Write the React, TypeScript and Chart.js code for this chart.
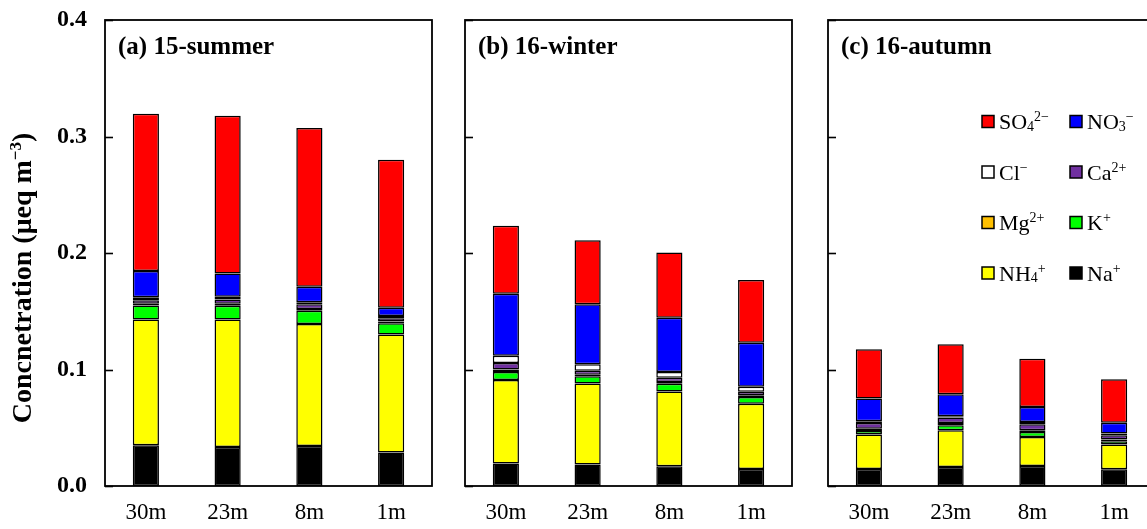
import React, { useEffect, useRef } from 'react';
import { Chart, registerables } from 'chart.js';

Chart.register(...registerables);

// ---------- data ----------
const categories = ['30m', '23m', '8m', '1m'];
const panelTitles = ['(a) 15-summer', '(b) 16-winter', '(c) 16-autumn'];
const yTickValues = [0, 0.1, 0.2, 0.3, 0.4];
const yTitle = 'Concnetration (μeq m⁻³)';

// stacking order bottom -> top
const ionLabels = ['Na⁺', 'NH₄⁺', 'K⁺', 'Mg²⁺', 'Ca²⁺', 'Cl⁻', 'NO₃⁻', 'SO₄²⁻'];
const ionColors = ['#000000', '#FFFF00', '#00FF00', '#FFC000', '#7030A0', '#FFFFFF', '#0000FF', '#FF0000'];

// each: [summer, winter, autumn] x categories
const Na = [
  [0.035, 0.0335, 0.0344, 0.0287],
  [0.0193, 0.0184, 0.0169, 0.0146],
  [0.0146, 0.0163, 0.0172, 0.0144],
];
const NH4 = [
  [0.108, 0.1095, 0.1046, 0.1013],
  [0.0716, 0.0696, 0.0643, 0.0559],
  [0.0296, 0.0316, 0.0249, 0.0212],
];
const K = [
  [0.012, 0.0118, 0.0115, 0.0096],
  [0.0069, 0.0063, 0.0065, 0.0058],
  [0.0031, 0.0043, 0.0043, 0.0028],
];
const Mg = [
  [0.0015, 0.0017, 0.0015, 0.0017],
  [0.0022, 0.0013, 0.0015, 0.0015],
  [0.0018, 0.0018, 0.0015, 0.0015],
];
const Ca = [
  [0.003, 0.0035, 0.004, 0.0027],
  [0.0055, 0.0034, 0.0037, 0.003],
  [0.005, 0.0047, 0.0052, 0.0037],
];
const Cl = [
  [0.0025, 0.0025, 0.0017, 0.002],
  [0.0063, 0.0056, 0.0049, 0.0043],
  [0.0015, 0.0012, 0.0019, 0.0014],
];
const NO3 = [
  [0.0226, 0.02, 0.0133, 0.007],
  [0.0532, 0.0514, 0.0467, 0.0379],
  [0.0195, 0.0189, 0.0129, 0.0092],
];
const SO4 = [
  [0.135, 0.1354, 0.1363, 0.127],
  [0.0583, 0.055, 0.0559, 0.0539],
  [0.0422, 0.0428, 0.0413, 0.0375],
];
const ionValues = [Na, NH4, K, Mg, Ca, Cl, NO3, SO4];

// ---------- rich text helpers ----------
const FAMILY = '"Liberation Serif", "Times New Roman", serif';
const SUB: Record<string, string> = {
  '₀': '0', '₁': '1', '₂': '2', '₃': '3', '₄': '4', '₅': '5', '₆': '6', '₇': '7', '₈': '8', '₉': '9',
};
const SUP: Record<string, string> = {
  '⁰': '0', '¹': '1', '²': '2', '³': '3', '⁴': '4', '⁵': '5', '⁶': '6', '⁷': '7', '⁸': '8', '⁹': '9',
  '⁺': '+', '⁻': '−',
};

type Seg = { t: 'n' | 'sub' | 'sup'; s: string };
function segments(text: string): Seg[] {
  const out: Seg[] = [];
  for (const ch of Array.from(text)) {
    let t: Seg['t'] = 'n';
    let c = ch;
    if (SUB[ch]) { t = 'sub'; c = SUB[ch]; }
    else if (SUP[ch]) { t = 'sup'; c = SUP[ch]; }
    const last = out[out.length - 1];
    if (last && last.t === t) last.s += c;
    else out.push({ t, s: c });
  }
  return out;
}

function drawRich(
  ctx: CanvasRenderingContext2D, text: string, x: number, y: number,
  size: number, weight: string, align: 'left' | 'center',
) {
  const segs = segments(text);
  const fontFor = (t: Seg['t']) => `${weight} ${t === 'n' ? size : Math.round(size * 0.62)}px ${FAMILY}`;
  ctx.save();
  ctx.textBaseline = 'alphabetic';
  ctx.textAlign = 'left';
  const widths = segs.map((sg) => { ctx.font = fontFor(sg.t); return ctx.measureText(sg.s).width; });
  const total = widths.reduce((a, b) => a + b, 0);
  let cx = align === 'center' ? x - total / 2 : x;
  segs.forEach((sg, i) => {
    ctx.font = fontFor(sg.t);
    const dy = sg.t === 'sub' ? size * 0.08 : sg.t === 'sup' ? -size * 0.36 : 0;
    ctx.fillText(sg.s, cx, y + dy);
    cx += widths[i];
  });
  ctx.restore();
}

// ---------- panel ----------
type PanelProps = {
  index: number; left: number; width: number; padLeft: number; padRight: number;
  showAxis: boolean; showLegend: boolean;
};

const H = 529;

function Panel({ index, left, width, padLeft, padRight, showAxis, showLegend }: PanelProps) {
  const ref = useRef<HTMLCanvasElement | null>(null);

  useEffect(() => {
    const canvas = ref.current;
    if (!canvas) return;

    const decor = {
      id: 'decor',
      afterDraw(chart: any) {
        const ctx: CanvasRenderingContext2D = chart.ctx;
        const a = chart.chartArea;
        const ys = chart.scales.y;
        ctx.save();
        // frame
        ctx.strokeStyle = '#000';
        ctx.lineWidth = 1.8;
        ctx.strokeRect(a.left, a.top, a.right - a.left, a.bottom - a.top);
        // inward tick marks
        ctx.lineWidth = 1.6;
        yTickValues.forEach((v) => {
          const py = Math.round(ys.getPixelForValue(v)) + 0.5;
          ctx.beginPath();
          ctx.moveTo(a.left, py);
          ctx.lineTo(a.left + 8, py);
          ctx.stroke();
        });
        ctx.fillStyle = '#000';
        // panel title
        drawRich(ctx, panelTitles[index], a.left + 13, a.top + 34, 25, 'bold', 'left');
        // y title
        if (showAxis) {
          ctx.save();
          ctx.translate(31, 278);
          ctx.rotate(-Math.PI / 2);
          drawRich(ctx, yTitle, 0, 0, 28, 'bold', 'center');
          ctx.restore();
        }
        // legend
        if (showLegend) {
          const ds = chart.data.datasets;
          const order = ds.map((_: any, i: number) => i).reverse();
          order.forEach((di: number, k: number) => {
            const row = Math.floor(k / 2);
            const col = k % 2;
            const bx = a.left + 154 + col * 88;
            const by = a.top + 101.5 + row * 50.5;
            ctx.fillStyle = ds[di].backgroundColor;
            ctx.fillRect(bx, by - 6, 12, 12);
            ctx.strokeStyle = '#000';
            ctx.lineWidth = 1.5;
            ctx.strokeRect(bx, by - 6, 12, 12);
            ctx.fillStyle = '#000';
            drawRich(ctx, ds[di].label, bx + 17, by + 7.5, 22, 'normal', 'left');
          });
        }
        ctx.restore();
      },
    };

    const chart = new Chart(canvas, {
      type: 'bar',
      data: {
        labels: categories,
        datasets: ionLabels.map((lab, i) => ({
          label: lab,
          data: ionValues[i][index],
          backgroundColor: ionColors[i],
          borderColor: '#000000',
          borderWidth: 1.5,
          borderSkipped: false,
          categoryPercentage: 1,
          barPercentage: 0.32,
        })),
      },
      options: {
        animation: false,
        responsive: false,
        maintainAspectRatio: false,
        devicePixelRatio: 1,
        layout: { padding: { left: padLeft, right: padRight, top: 20, bottom: 0 } },
        plugins: {
          legend: { display: false },
          tooltip: { enabled: false },
          title: { display: false },
        },
        scales: {
          x: {
            stacked: true,
            grid: { display: false, drawTicks: false },
            border: { display: false },
            ticks: {
              color: '#000',
              font: { family: FAMILY, size: 23 },
              padding: 13,
              maxRotation: 0,
            },
            afterFit: (s: any) => { s.height = 43; s.paddingLeft = 0; s.paddingRight = 0; },
          },
          y: {
            stacked: true,
            display: showAxis,
            min: 0,
            max: 0.4,
            grid: { display: false, drawTicks: false },
            border: { display: false },
            ticks: {
              color: '#000',
              font: { family: FAMILY, size: 24, weight: 'bold' },
              padding: 18,
              callback: (v: any) => Number(v).toFixed(1),
            },
            afterBuildTicks: (s: any) => { s.ticks = yTickValues.map((v) => ({ value: v })); },
            afterFit: (s: any) => {
              s.width = showAxis ? 105 : 0;
              s.paddingTop = 0;
              s.paddingBottom = 0;
            },
          },
        },
      },
      plugins: [decor],
    } as any);

    return () => chart.destroy();
  }, [index, padLeft, padRight, showAxis, showLegend]);

  return (
    <canvas
      ref={ref}
      width={width}
      height={H}
      style={{ position: 'absolute', left, top: 0, width, height: H, display: 'block' }}
    />
  );
}

export default function App() {
  return (
    <div
      style={{
        position: 'fixed', left: 0, top: 0, width: 1147, height: H,
        overflow: 'hidden', background: '#fff',
      }}
    >
      <Panel index={0} left={0} width={450} padLeft={0} padRight={18} showAxis={true} showLegend={false} />
      <Panel index={1} left={450} width={360} padLeft={15} padRight={18} showAxis={false} showLegend={false} />
      <Panel index={2} left={810} width={360} padLeft={18} padRight={15} showAxis={false} showLegend={true} />
    </div>
  );
}
